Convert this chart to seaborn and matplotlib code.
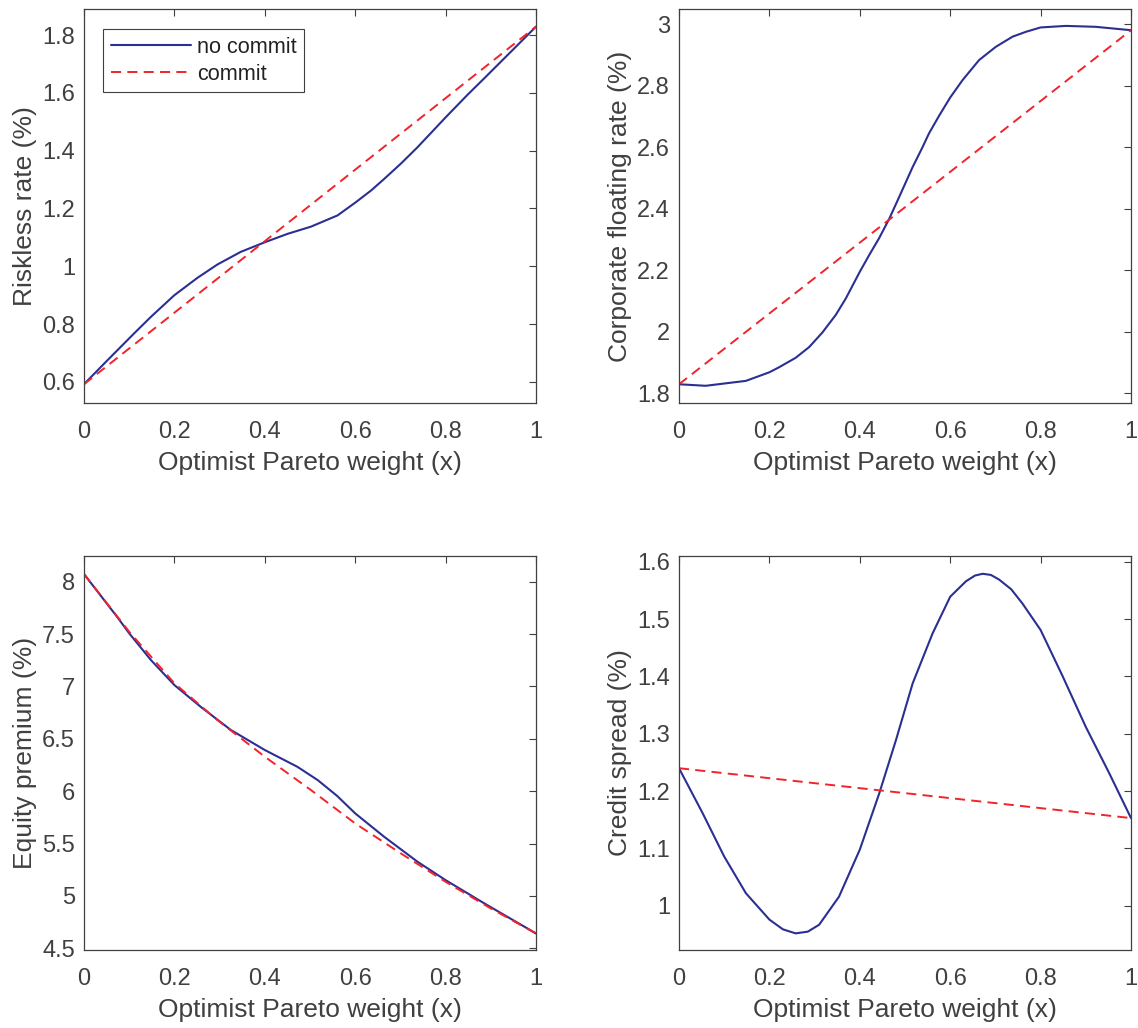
import matplotlib
matplotlib.use("Agg")
import matplotlib.pyplot as plt
import seaborn as sns
import pandas as pd

# ---------------- data ----------------
xlabel = "Optimist Pareto weight (x)"

# Panel 1: Riskless rate
rf_x_nc = [0.0, 0.052, 0.111, 0.148, 0.2, 0.251, 0.295, 0.347, 0.4, 0.45, 0.502, 0.561, 0.6,
           0.635, 0.664, 0.701, 0.738, 0.8, 0.849, 0.886, 0.945, 1.0]
rf_y_nc = [0.592, 0.675, 0.768, 0.825, 0.900, 0.960, 1.006, 1.050, 1.083, 1.112, 1.137, 1.176,
           1.220, 1.262, 1.302, 1.355, 1.412, 1.515, 1.594, 1.651, 1.743, 1.829]
rf_x_c = [0.0, 1.0]
rf_y_c = [0.592, 1.829]

# Panel 2: Corporate floating rate
cf_x_nc = [0.0, 0.059, 0.148, 0.2, 0.221, 0.258, 0.288, 0.317, 0.347, 0.369, 0.4, 0.421, 0.443,
           0.465, 0.487, 0.517, 0.539, 0.553, 0.576, 0.6, 0.627, 0.664, 0.701, 0.738, 0.768,
           0.8, 0.856, 0.922, 1.0]
cf_y_nc = [1.829, 1.824, 1.840, 1.868, 1.884, 1.915, 1.950, 1.997, 2.055, 2.108, 2.195, 2.250,
           2.305, 2.367, 2.438, 2.536, 2.601, 2.645, 2.704, 2.762, 2.818, 2.884, 2.927, 2.960,
           2.976, 2.990, 2.995, 2.992, 2.981]
cf_x_c = [0.0, 1.0]
cf_y_c = [1.829, 2.981]

# Panel 3: Equity premium
ep_x_nc = [0.0, 0.074, 0.1, 0.148, 0.2, 0.258, 0.325, 0.4, 0.472, 0.517, 0.56, 0.6, 0.664,
           0.738, 0.8, 0.886, 1.0]
ep_y_nc = [8.073, 7.660, 7.507, 7.252, 7.013, 6.806, 6.584, 6.393, 6.233, 6.106, 5.955, 5.788,
           5.565, 5.326, 5.151, 4.928, 4.642]
ep_x_c = [0.0, 0.1, 0.2, 0.295, 0.4, 0.502, 0.6, 0.701, 0.8, 0.9, 1.0]
ep_y_c = [8.073, 7.522, 7.030, 6.679, 6.329, 6.011, 5.692, 5.406, 5.135, 4.881, 4.642]

# Panel 4: Credit spread
cs_x_nc = [0.0, 0.052, 0.1, 0.148, 0.2, 0.23, 0.258, 0.285, 0.31, 0.354, 0.4, 0.443, 0.48,
           0.517, 0.561, 0.6, 0.635, 0.655, 0.672, 0.69, 0.708, 0.735, 0.76, 0.8, 0.849, 0.9,
           0.952, 1.0]
cs_y_nc = [1.240, 1.162, 1.086, 1.022, 0.976, 0.959, 0.952, 0.955, 0.967, 1.016, 1.098, 1.196,
           1.289, 1.388, 1.475, 1.539, 1.566, 1.576, 1.579, 1.577, 1.569, 1.552, 1.527, 1.481,
           1.400, 1.312, 1.231, 1.153]
cs_x_c = [0.0, 1.0]
cs_y_c = [1.240, 1.153]

panels = [
    dict(label="Riskless rate (%)", xnc=rf_x_nc, ync=rf_y_nc, xc=rf_x_c, yc=rf_y_c,
         ylim=(0.527, 1.890), yticks=[0.6, 0.8, 1.0, 1.2, 1.4, 1.6, 1.8],
         yticklabels=["0.6", "0.8", "1", "1.2", "1.4", "1.6", "1.8"], legend=True),
    dict(label="Corporate floating rate (%)", xnc=cf_x_nc, ync=cf_y_nc, xc=cf_x_c, yc=cf_y_c,
         ylim=(1.768, 3.050), yticks=[1.8, 2.0, 2.2, 2.4, 2.6, 2.8, 3.0],
         yticklabels=["1.8", "2", "2.2", "2.4", "2.6", "2.8", "3"], legend=False),
    dict(label="Equity premium (%)", xnc=ep_x_nc, ync=ep_y_nc, xc=ep_x_c, yc=ep_y_c,
         ylim=(4.484, 8.245), yticks=[4.5, 5, 5.5, 6, 6.5, 7, 7.5, 8],
         yticklabels=["4.5", "5", "5.5", "6", "6.5", "7", "7.5", "8"], legend=False),
    dict(label="Credit spread (%)", xnc=cs_x_nc, ync=cs_y_nc, xc=cs_x_c, yc=cs_y_c,
         ylim=(0.923, 1.610), yticks=[1.0, 1.1, 1.2, 1.3, 1.4, 1.5, 1.6],
         yticklabels=["1", "1.1", "1.2", "1.3", "1.4", "1.5", "1.6"], legend=False),
]
xticks = [0, 0.2, 0.4, 0.6, 0.8, 1.0]
xticklabels = ["0", "0.2", "0.4", "0.6", "0.8", "1"]

# ---------------- style ----------------
sns.set_theme(style="white")
plt.rcParams["font.family"] = ["Liberation Sans", "DejaVu Sans"]
TXT = "#404040"
plt.rcParams.update({
    "text.color": TXT, "axes.labelcolor": TXT,
    "xtick.color": TXT, "ytick.color": TXT,
    "axes.edgecolor": "#404040",
})
BLUE = "#2B2F92"
RED = "#F2232A"

fig = plt.figure(figsize=(11.38, 10.28), dpi=100)
W, H = 1138.0, 1028.0
boxes = [(84, 9, 536, 403), (679, 9, 1131, 403), (84, 556, 536, 950), (679, 556, 1131, 950)]

for p, (l, t, r, b) in zip(panels, boxes):
    ax = fig.add_axes([l / W, 1 - b / H, (r - l) / W, (b - t) / H])
    df_nc = pd.DataFrame({"x": p["xnc"], "y": p["ync"]})
    df_c = pd.DataFrame({"x": p["xc"], "y": p["yc"]})
    sns.lineplot(data=df_nc, x="x", y="y", ax=ax, color=BLUE, lw=1.5,
                 estimator=None, sort=False, label="no commit")
    sns.lineplot(data=df_c, x="x", y="y", ax=ax, color=RED, lw=1.4,
                 estimator=None, sort=False, label="commit", linestyle=(0, (5.2, 3.2)))
    ax.set_xlim(0, 1)
    ax.set_ylim(*p["ylim"])
    ax.set_xticks(xticks)
    ax.set_xticklabels(xticklabels)
    ax.set_yticks(p["yticks"])
    ax.set_yticklabels(p["yticklabels"])
    ax.tick_params(direction="in", length=5, width=0.8, top=True, right=True,
                   labelsize=17, colors=TXT)
    ax.tick_params(axis="x", pad=13)
    ax.tick_params(axis="y", pad=6.5)
    for s in ax.spines.values():
        s.set_linewidth(0.9)
        s.set_color("#404040")
    ax.set_xlabel(xlabel, fontsize=19, labelpad=6)
    ax.set_ylabel(p["label"], fontsize=19, labelpad=4)
    if p["legend"]:
        leg = ax.legend(loc="upper left", bbox_to_anchor=(0.042, 0.949), fontsize=15.6,
                        handlelength=3.7, handletextpad=0.3, borderpad=0.35,
                        labelspacing=0.28, fancybox=False, framealpha=1,
                        edgecolor="#404040", borderaxespad=0)
        leg.get_frame().set_linewidth(0.8)
        for txt in leg.get_texts():
            txt.set_color("#222222")
    else:
        lg = ax.get_legend()
        if lg is not None:
            lg.remove()

fig.savefig("out.png", dpi=100)
